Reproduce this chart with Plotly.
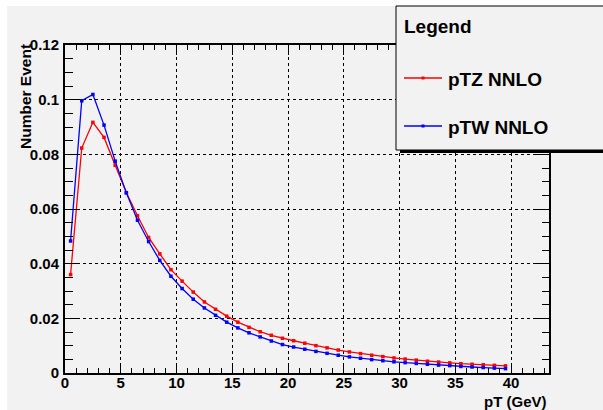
import plotly.graph_objects as go

# ---- data ----
pt_bins = [i + 0.5 for i in range(40)]

ptz_nnlo = [0.0360, 0.0823, 0.0917, 0.0862, 0.0760, 0.0660, 0.0575, 0.0496, 0.0436, 0.0378,
            0.0336, 0.0296, 0.0260, 0.0233, 0.0208, 0.0186, 0.0167, 0.0151, 0.0138, 0.0127,
            0.0118, 0.0109, 0.0100, 0.0092, 0.0084, 0.0077, 0.0071, 0.0065, 0.0060, 0.0055,
            0.0051, 0.0047, 0.0043, 0.0040, 0.0037, 0.0034, 0.0032, 0.0030, 0.0028, 0.0026]

ptw_nnlo = [0.0483, 0.0996, 0.1019, 0.0907, 0.0775, 0.0659, 0.0559, 0.0481, 0.0412, 0.0354,
            0.0309, 0.0270, 0.0238, 0.0211, 0.0186, 0.0165, 0.0147, 0.0132, 0.0117, 0.0104,
            0.0095, 0.0087, 0.0079, 0.0072, 0.0065, 0.0059, 0.0054, 0.0049, 0.0045, 0.0041,
            0.0038, 0.0035, 0.0032, 0.0029, 0.0027, 0.0024, 0.0022, 0.0020, 0.0018, 0.0016]

series_names = ["pTZ NNLO", "pTW NNLO"]
series_colors = ["#ff0000", "#0000ff"]
x_title = "pT (GeV)"
y_title = "Number Event"
legend_title = "Legend"

# ---- geometry helpers (pixel -> paper) ----
W, H = 603, 410
L, R, T, B = 65, 54, 45, 37
PW, PH = W - L - R, H - T - B


def px(x):
    return (x - L) / PW


def py(y):
    return (H - B - y) / PH


FONT = "Liberation Sans, Arial, Helvetica, sans-serif"
BG = "#f2f2f2"

fig = go.Figure()
for name, vals, col in zip(series_names, [ptz_nnlo, ptw_nnlo], series_colors):
    fig.add_trace(go.Scatter(
        x=pt_bins, y=vals, mode="lines+markers", name=name,
        line=dict(color=col, width=1.3),
        marker=dict(color=col, size=3.5, symbol="square"),
        showlegend=False,
    ))

axis_common = dict(
    showline=True, linecolor="black", linewidth=2, mirror="ticks",
    ticks="inside", tickcolor="black", tickwidth=1,
    showgrid=True, gridcolor="black", gridwidth=1, griddash="dot",
    zeroline=False,
    tickfont=dict(family=FONT, size=15, color="black", weight="bold"),
)

fig.update_xaxes(range=[0, 43.4], dtick=5, tick0=0, ticklen=10,
                 minor=dict(dtick=1, ticklen=5, ticks="inside", tickcolor="black", showgrid=False),
                 ticklabelstandoff=-5,
                 **axis_common)
fig.update_yaxes(range=[0, 0.12], dtick=0.02, tick0=0, ticklen=14.5,
                 minor=dict(dtick=0.005, ticklen=7.5, ticks="inside", tickcolor="black", showgrid=False),
                 ticklabelstandoff=1,
                 **axis_common)

shapes = [
    # white strips around the gray canvas
    dict(type="rect", xref="paper", yref="paper", x0=px(-5), x1=px(7), y0=py(420), y1=py(-5),
         fillcolor="white", line=dict(width=0), layer="below"),
    dict(type="rect", xref="paper", yref="paper", x0=px(-5), x1=px(610), y0=py(6), y1=py(-5),
         fillcolor="white", line=dict(width=0), layer="below"),
    # legend shadow
    dict(type="rect", xref="paper", yref="paper", x0=px(400), x1=px(620), y0=py(153), y1=py(149),
         fillcolor="black", line=dict(width=0), layer="above"),
    # legend box
    dict(type="rect", xref="paper", yref="paper", x0=px(396), x1=px(620), y0=py(150), y1=py(6),
         fillcolor=BG, line=dict(color="black", width=1), layer="above"),
]
leg_y = [78, 126]
for col, yy in zip(series_colors, leg_y):
    shapes.append(dict(type="line", xref="paper", yref="paper", x0=px(404), x1=px(442),
                       y0=py(yy), y1=py(yy), line=dict(color=col, width=1.3), layer="above"))
    shapes.append(dict(type="rect", xref="paper", yref="paper", x0=px(421.5), x1=px(424.5),
                       y0=py(yy + 1.5), y1=py(yy - 1.5), fillcolor=col, line=dict(width=0),
                       layer="above"))

annotations = [
    dict(text=legend_title, xref="paper", yref="paper", x=px(402), y=py(27),
         xanchor="left", yanchor="middle", showarrow=False,
         font=dict(family=FONT, size=19, color="black", weight="bold")),
    dict(text=x_title, xref="paper", yref="paper", x=px(549), y=py(401),
         xanchor="right", yanchor="middle", showarrow=False,
         font=dict(family=FONT, size=15, color="black", weight="bold")),
    dict(text=y_title, xref="paper", yref="paper", x=px(25), y=py(97),
         xanchor="center", yanchor="middle", textangle=-90, showarrow=False,
         font=dict(family=FONT, size=15.5, color="black", weight="bold")),
]
for name, yy in zip(series_names, leg_y):
    annotations.append(dict(text=name, xref="paper", yref="paper", x=px(446), y=py(yy + 1),
                            xanchor="left", yanchor="middle", showarrow=False,
                            font=dict(family=FONT, size=19, color="black", weight="bold")))

fig.update_layout(
    width=W, height=H,
    margin=dict(l=L, r=R, t=T, b=B, pad=0),
    paper_bgcolor=BG, plot_bgcolor=BG,
    shapes=shapes, annotations=annotations,
    showlegend=False,
)

fig.write_html("out.html")
